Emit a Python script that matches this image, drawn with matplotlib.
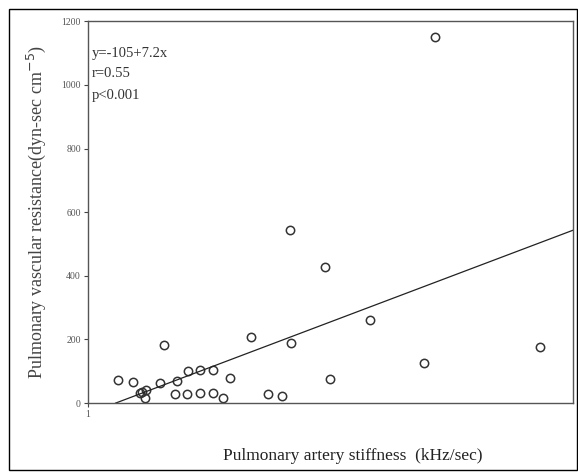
import numpy as np
from matplotlib import pyplot as plt
from matplotlib.patches import Rectangle

# stiffness (kHz/sec) vs vascular resistance
stiffness = [14.9, 17.4, 18.9, 18.6, 19.4, 19.6, 22.5, 21.9, 24.7, 24.4, 26.3, 26.5,
             28.5, 30.6, 33.4, 28.5, 30.6, 32.3, 36.9, 39.7, 42.0, 43.5, 43.3,
             49.1, 49.9, 56.5, 65.4, 67.3, 84.6]
resistance = [72, 66, 35, 31, 16, 41, 182, 63, 69, 28, 28, 101,
              104, 104, 79, 31, 31, 16, 208, 28, 22, 189, 544,
              428, 75, 261, 126, 1151, 176]

intercept = -105
slope = 7.2
y_ticks = [0, 200, 400, 600, 800, 1000, 1200]
y_tick_labels = ['0', '200', '400', '600', '800', '1000', '1200']

plt.rcParams['font.family'] = ['Liberation Serif', 'DejaVu Serif']

fig = plt.figure(figsize=(5.78, 4.72), dpi=100)
ax = fig.add_axes([0.152, 0.146, 0.839, 0.809])

# outer frame around the whole figure
fig.patches.append(Rectangle((0.016, 0.004), 0.982, 0.976, transform=fig.transFigure,
                             fill=False, edgecolor='black', linewidth=1.0))

ax.plot(stiffness, resistance, linestyle='none', marker='o', markersize=6,
        markerfacecolor='none', markeredgecolor='#333333', markeredgewidth=1.1)

x_line = np.array([-intercept / slope, 90])
ax.plot(x_line, intercept + slope * x_line, color='#222222', linewidth=0.9)

ax.set_xlim(10, 90)
ax.set_ylim(0, 1200)
ax.set_yticks(y_ticks)
ax.set_yticklabels(y_tick_labels)
ax.set_xticks([10])
ax.set_xticklabels(['1'])
ax.tick_params(axis='both', direction='out', length=3, width=0.8,
               labelsize=7, labelcolor='#555555', color='#444444', pad=2)
for s in ax.spines.values():
    s.set_color('#555555')
    s.set_linewidth(1.0)

ax.text(0.008, 0.915, 'y=-105+7.2x', transform=ax.transAxes, fontsize=10.5,
        color='#333333', va='center')
ax.text(0.008, 0.862, 'r=0.55', transform=ax.transAxes, fontsize=10.5,
        color='#333333', va='center')
ax.text(0.008, 0.805, 'p<0.001', transform=ax.transAxes, fontsize=10.5,
        color='#333333', va='center')

ax.set_ylabel('Pulmonary vascular resistance(dyn-sec cm$^{-5}$)', fontsize=13,
              color='#444444', labelpad=10)
fig.text(0.61, 0.018, 'Pulmonary artery stiffness  (kHz/sec)', fontsize=12.5,
         ha='center', va='bottom', color='#222222')

fig.savefig('out.png', dpi=100)
